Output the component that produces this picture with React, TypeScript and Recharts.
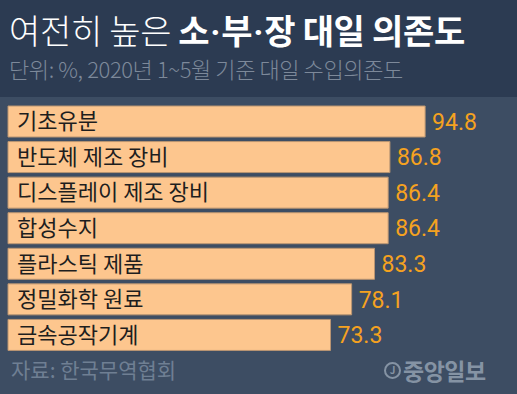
import { BarChart, Bar, XAxis, YAxis, LabelList } from "recharts";

// 2020년 1~5월 기준 대일 수입의존도 (%)
const categories = ["기초유분", "반도체 제조 장비", "디스플레이 제조 장비", "합성수지", "플라스틱 제품", "정밀화학 원료", "금속공작기계"];
const values = [94.8, 86.8, 86.4, 86.4, 83.3, 78.1, 73.3];

const data = categories.map((name, i) => ({ name, value: values[i] }));

const FONT = "'Noto Sans CJK KR', 'Noto Sans', sans-serif";
const NUM_FONT = "Roboto, 'Noto Sans CJK KR', sans-serif";

const dot = <span style={{ fontFamily: "Roboto, sans-serif", margin: "0 1px" }}>·</span>;

export default function App() {
  return (
    <div style={{ position: "absolute", left: 0, top: 0, width: 517, height: 394, background: "#3d4d63", fontFamily: FONT, overflow: "hidden" }}>
      <div style={{ position: "absolute", left: 0, top: 0, width: 517, height: 97, background: "#2c3b52" }} />
      <div style={{ position: "absolute", left: 9, top: 6, fontSize: 34, color: "#ffffff", letterSpacing: -0.3, whiteSpace: "nowrap", lineHeight: "48px" }}>
        <span style={{ fontWeight: 300 }}>여전히 높은 </span>
        <span style={{ fontWeight: 700 }}>소{dot}부{dot}장 대일 의존도</span>
      </div>
      <div style={{ position: "absolute", left: 9, top: 52, fontSize: 22, color: "#7d899a", letterSpacing: -0.4, whiteSpace: "nowrap", lineHeight: "32px", fontWeight: 300 }}>
        단위: %, 2020년 1~5월 기준 대일 수입의존도
      </div>
      <div style={{ position: "absolute", left: 0, top: 0 }}>
        <BarChart layout="vertical" width={517} height={394} data={data} margin={{ top: 104, right: 69, bottom: 41, left: 8 }}>
          <XAxis type="number" domain={[0, 100]} hide />
          <YAxis type="category" dataKey="name" hide width={0} />
          <Bar dataKey="value" fill="#fdc68e" stroke="#b99572" strokeWidth={1} barSize={31} isAnimationActive={false}>
            <LabelList dataKey="name" position="insideLeft" offset={9} fill="#1e1e1e" fontSize={22} fontFamily={FONT} />
            <LabelList dataKey="value" position="right" offset={7} fill="#f5a21f" fontSize={23} fontFamily={NUM_FONT} />
          </Bar>
        </BarChart>
      </div>
      <div style={{ position: "absolute", left: 11, top: 354, fontSize: 21, color: "#6f7f93", whiteSpace: "nowrap", lineHeight: "30px" }}>
        자료: 한국무역협회
      </div>
      <div style={{ position: "absolute", left: 384, top: 355, display: "flex", alignItems: "center", color: "#8593a4", whiteSpace: "nowrap" }}>
        <div style={{ width: 17, height: 17, borderRadius: "50%", border: "2px solid #8593a4", boxSizing: "border-box", fontSize: 10, fontWeight: 700, display: "flex", alignItems: "center", justifyContent: "center", lineHeight: 1 }}>J</div>
        <span style={{ fontSize: 23, fontWeight: 700, marginLeft: 2, letterSpacing: -0.5, lineHeight: "30px" }}>중앙일보</span>
      </div>
    </div>
  );
}
